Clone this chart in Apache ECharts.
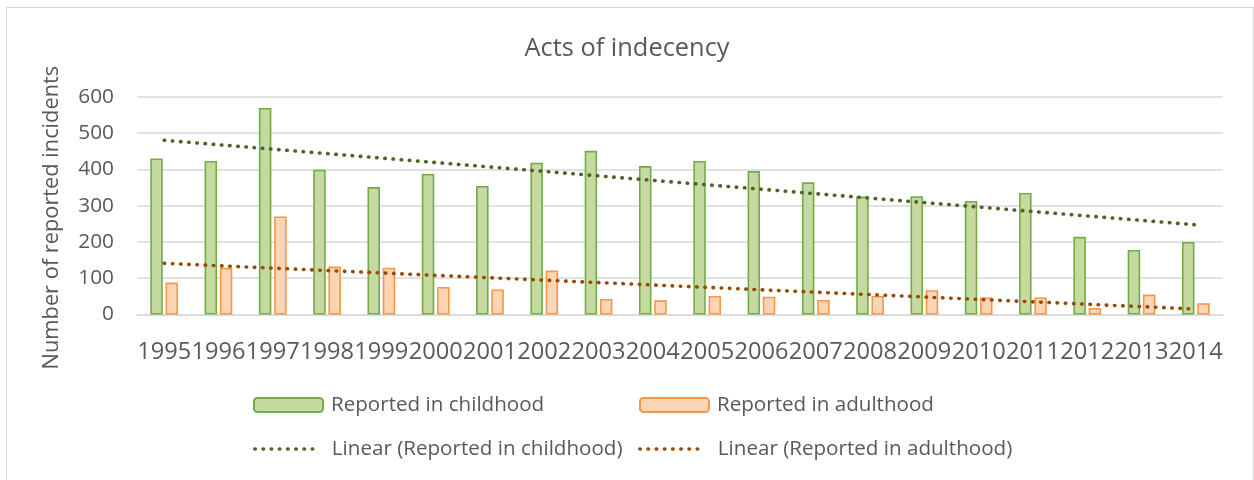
<!DOCTYPE html>
<html>
<head>
<meta charset="utf-8">
<title>Acts of indecency</title>
<script src="https://cdn.jsdelivr.net/npm/echarts@6/dist/echarts.min.js"></script>
<style>
  html, body { margin: 0; padding: 0; background: #fff; }
  .frame { position: absolute; left: 6px; top: 7px; width: 1246px; height: 480px; border: 1px solid #d9d9d9; }
  #chart { position: absolute; left: 0; top: 0; width: 1254px; height: 480px; }
</style>
</head>
<body>
<div class="frame"></div>
<div id="chart"></div>
<script>
// data
const years = ['1995', '1996', '1997', '1998', '1999', '2000', '2001', '2002', '2003', '2004',
  '2005', '2006', '2007', '2008', '2009', '2010', '2011', '2012', '2013', '2014']
const childhood = [430, 423, 569, 399, 351, 387, 354, 418, 451, 409,
  423, 395, 364, 325, 326, 313, 335, 214, 178, 200]
const adulthood = [88, 129, 270, 132, 129, 76, 69, 121, 43, 39,
  51, 49, 40, 51, 67, 47, 47, 18, 55, 31]
// trend lines: values at first and last year
const childhoodTrend = [480, 247]
const adulthoodTrend = [141, 15]

const font = '"Open Sans", "Noto Sans", sans-serif'
const textColor = '#595959'
const names = ['Reported in childhood', 'Reported in adulthood',
  'Linear (Reported in childhood)', 'Linear (Reported in adulthood)']
const dotted = { width: 3.6, type: [0.5, 7.7], cap: 'round' }

function trendData(t) {
  return [[years[0], t[0]], [years[years.length - 1], t[1]]]
}

function legendItem(name, left, top, w, gap, lineColor) {
  const l = {
    data: [name],
    left: left,
    top: top,
    padding: 0,
    itemWidth: w,
    itemHeight: 14,
    selectedMode: false,
    textStyle: { color: textColor, fontFamily: font, fontSize: 20.6, lineHeight: 24, padding: [0, 0, 0, gap] }
  }
  if (lineColor) {
    // dotted trend line only, no symbol
    l.itemStyle = { opacity: 0 }
    l.lineStyle = Object.assign({ color: lineColor }, dotted)
  }
  return l
}

const option = {
  animation: false,
  textStyle: { fontFamily: font },
  title: {
    text: 'Acts of indecency',
    left: 'center',
    top: 36,
    padding: 0,
    textStyle: { color: textColor, fontFamily: font, fontSize: 25.4, fontWeight: 'normal' }
  },
  legend: [
    legendItem(names[0], 253, 393, 69, 3),
    legendItem(names[1], 639, 393, 69, 3),
    legendItem(names[2], 253, 437, 64, 8, '#4f6228'),
    legendItem(names[3], 638, 437, 64, 9, '#984807')
  ],
  grid: { left: 137, right: 31, top: 96.7, bottom: 165.5 },
  xAxis: {
    type: 'category',
    data: years,
    axisLine: { lineStyle: { color: '#d9d9d9', width: 1.5 } },
    axisTick: { show: false },
    axisLabel: { interval: 0, color: textColor, fontFamily: font, fontSize: 23.6, margin: 26 }
  },
  yAxis: {
    type: 'value',
    min: 0,
    max: 600,
    interval: 100,
    name: 'Number of reported incidents',
    nameLocation: 'middle',
    nameGap: 74,
    nameTextStyle: { color: textColor, fontFamily: font, fontSize: 21.8, padding: [0, 24, 0, 0] },
    axisLine: { show: false },
    axisTick: { show: false },
    axisLabel: { color: textColor, fontFamily: font, fontSize: 20.8, margin: 23 },
    splitLine: { lineStyle: { color: '#d9d9d9', width: 1.5 } }
  },
  series: [
    {
      name: names[0],
      type: 'bar',
      data: childhood,
      barWidth: '23%',
      barGap: '22%',
      itemStyle: { color: '#c5d9a0', borderColor: '#70ad47', borderWidth: 1.6 }
    },
    {
      name: names[1],
      type: 'bar',
      data: adulthood,
      barWidth: '23%',
      barGap: '22%',
      itemStyle: { color: '#fcd5b4', borderColor: '#f79646', borderWidth: 1.6 }
    },
    {
      name: names[2],
      type: 'line',
      data: trendData(childhoodTrend),
      symbol: 'none',
      itemStyle: { color: '#4f6228' },
      lineStyle: Object.assign({ color: '#4f6228' }, dotted)
    },
    {
      name: names[3],
      type: 'line',
      data: trendData(adulthoodTrend),
      symbol: 'none',
      itemStyle: { color: '#984807' },
      lineStyle: Object.assign({ color: '#984807' }, dotted)
    }
  ]
}

const myChart = echarts.init(document.getElementById('chart'))
myChart.setOption(option)
window.addEventListener('resize', () => {
  myChart.resize()
})
</script>
</body>
</html>
